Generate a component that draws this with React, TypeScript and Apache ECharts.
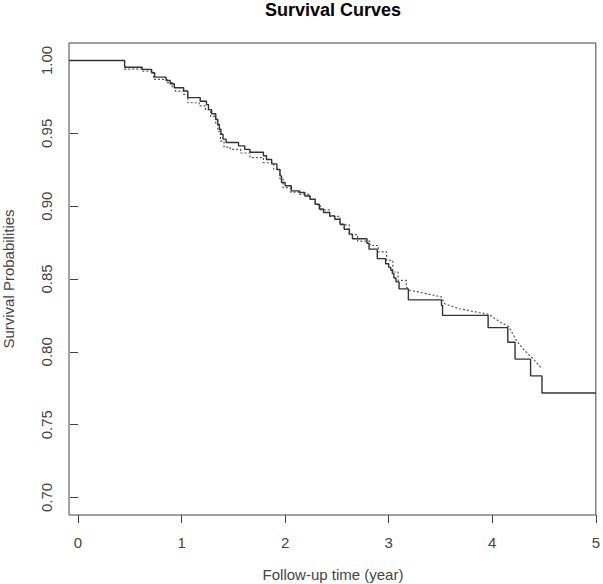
import React, { useEffect, useRef } from "react";
import * as echarts from "echarts";

// Kaplan-Meier (solid) step curve
const kmTime = [-0.087, 0.45, 0.62, 0.71, 0.74, 0.85, 0.89, 0.93, 1.02, 1.06, 1.18, 1.24, 1.26, 1.29, 1.33, 1.35, 1.365, 1.38, 1.4, 1.43, 1.55, 1.61, 1.66, 1.79, 1.82, 1.87, 1.92, 1.95, 1.965, 2.0, 2.06, 2.14, 2.19, 2.24, 2.29, 2.33, 2.37, 2.43, 2.48, 2.53, 2.57, 2.62, 2.65, 2.79, 2.81, 2.89, 2.97, 3.0, 3.02, 3.035, 3.05, 3.07, 3.1, 3.19, 3.51, 3.52, 3.96, 4.15, 4.22, 4.37, 4.48, 5.0];
const kmSurv = [1.0, 0.9954, 0.9939, 0.9916, 0.9886, 0.9863, 0.984, 0.9813, 0.979, 0.9745, 0.972, 0.9697, 0.9663, 0.9634, 0.9595, 0.9561, 0.9528, 0.9494, 0.946, 0.9437, 0.9414, 0.939, 0.937, 0.9346, 0.932, 0.929, 0.9252, 0.9208, 0.9162, 0.914, 0.9105, 0.9094, 0.907, 0.9047, 0.9013, 0.898, 0.8956, 0.8933, 0.891, 0.8876, 0.8842, 0.8808, 0.8776, 0.8745, 0.8705, 0.864, 0.8605, 0.858, 0.856, 0.8537, 0.8507, 0.848, 0.8432, 0.8357, 0.8318, 0.825, 0.8166, 0.8066, 0.795, 0.7835, 0.7717, 0.7717];

// Model-predicted (dotted) curve: early part drawn as fine steps
const predEarlyTime = [-0.087, 0.45, 0.62, 0.73, 0.86, 0.91, 0.94, 1.02, 1.06, 1.17, 1.23, 1.28, 1.33, 1.35, 1.375, 1.41, 1.47, 1.57, 1.66, 1.79, 1.89, 1.95, 1.98, 2.05, 2.14, 2.24, 2.29, 2.34, 2.43, 2.53, 2.62, 2.7, 2.82, 2.9, 2.98, 3.04, 3.09, 3.17];
const predEarlySurv = [1.0, 0.994, 0.9927, 0.987, 0.9848, 0.9813, 0.979, 0.9768, 0.971, 0.9688, 0.9662, 0.9617, 0.956, 0.9514, 0.9446, 0.9405, 0.939, 0.9365, 0.9333, 0.9298, 0.9252, 0.9186, 0.9127, 0.9097, 0.9081, 0.9047, 0.901, 0.8975, 0.893, 0.8872, 0.8805, 0.876, 0.873, 0.8686, 0.8628, 0.8548, 0.849, 0.8445];
// later part looks like a continuous dotted line
const predLateTime = [3.17, 3.2, 3.36, 3.51, 3.54, 3.68, 3.87, 3.97, 4.07, 4.16, 4.23, 4.31, 4.39, 4.48];
const predLateSurv = [0.8445, 0.8423, 0.84, 0.8377, 0.833, 0.8296, 0.827, 0.8257, 0.8207, 0.8173, 0.808, 0.801, 0.7956, 0.7883];

const xTicks = [0, 1, 2, 3, 4, 5];
const yTicks = [0.7, 0.75, 0.8, 0.85, 0.9, 0.95, 1.0];

const titleText = "Survival Curves";
const xTitle = "Follow-up time (year)";
const yTitle = "Survival Probabilities";

const FONT = "'Liberation Sans', Arial, Helvetica, sans-serif";

export default function App() {
  const ref = useRef<HTMLDivElement>(null);
  useEffect(() => {
    document.body.style.margin = "0";
    const chart = echarts.init(ref.current!, null, { renderer: "svg" });
    const dotted = { color: "#555", width: 1.2, type: [2, 2] as number[] };
    chart.setOption({
      animation: false,
      backgroundColor: "#ffffff",
      textStyle: { fontFamily: FONT },
      grid: {
        left: 69,
        right: 6,
        top: 43,
        bottom: 69,
        show: true,
        borderColor: "#444",
        borderWidth: 1,
        backgroundColor: "transparent",
      },
      xAxis: {
        type: "value",
        min: -0.087,
        max: 5,
        splitLine: { show: false },
        axisLine: { show: false },
        axisTick: {
          show: true,
          length: 8,
          customValues: xTicks,
          lineStyle: { color: "#444", width: 1 },
        },
        axisLabel: {
          customValues: xTicks,
          margin: 20,
          fontSize: 15,
          color: "#444",
          fontFamily: FONT,
          formatter: (v: number) => String(v),
        },
      },
      yAxis: {
        type: "value",
        min: 0.688,
        max: 1.012,
        splitLine: { show: false },
        axisLine: { show: false },
        axisTick: {
          show: true,
          length: 8,
          customValues: yTicks,
          lineStyle: { color: "#444", width: 1 },
        },
        axisLabel: {
          customValues: yTicks,
          rotate: 90,
          margin: 15,
          fontSize: 15,
          color: "#444",
          fontFamily: FONT,
          formatter: (v: number) => v.toFixed(2),
        },
      },
      graphic: [
        {
          type: "text",
          x: 333,
          y: 10,
          style: {
            text: titleText,
            fontSize: 18,
            fontWeight: "bold",
            fontFamily: FONT,
            fill: "#000",
            align: "center",
            verticalAlign: "middle",
          },
        },
        {
          type: "text",
          x: 333,
          y: 574,
          style: {
            text: xTitle,
            fontSize: 15,
            fontFamily: FONT,
            fill: "#444",
            align: "center",
            verticalAlign: "middle",
          },
        },
        {
          type: "text",
          x: 8,
          y: 279,
          rotation: Math.PI / 2,
          style: {
            text: yTitle,
            fontSize: 15,
            fontFamily: FONT,
            fill: "#444",
            align: "center",
            verticalAlign: "middle",
          },
        },
      ],
      series: [
        {
          type: "line",
          step: "end",
          showSymbol: false,
          data: kmTime.map((t, i) => [t, kmSurv[i]]),
          lineStyle: { color: "#333", width: 1.4 },
          z: 3,
        },
        {
          type: "line",
          step: "end",
          showSymbol: false,
          data: predEarlyTime.map((t, i) => [t, predEarlySurv[i]]),
          lineStyle: dotted,
          z: 2,
        },
        {
          type: "line",
          showSymbol: false,
          data: predLateTime.map((t, i) => [t, predLateSurv[i]]),
          lineStyle: dotted,
          z: 2,
        },
      ],
    });
    return () => chart.dispose();
  }, []);
  return <div ref={ref} style={{ width: 603, height: 584 }} />;
}
